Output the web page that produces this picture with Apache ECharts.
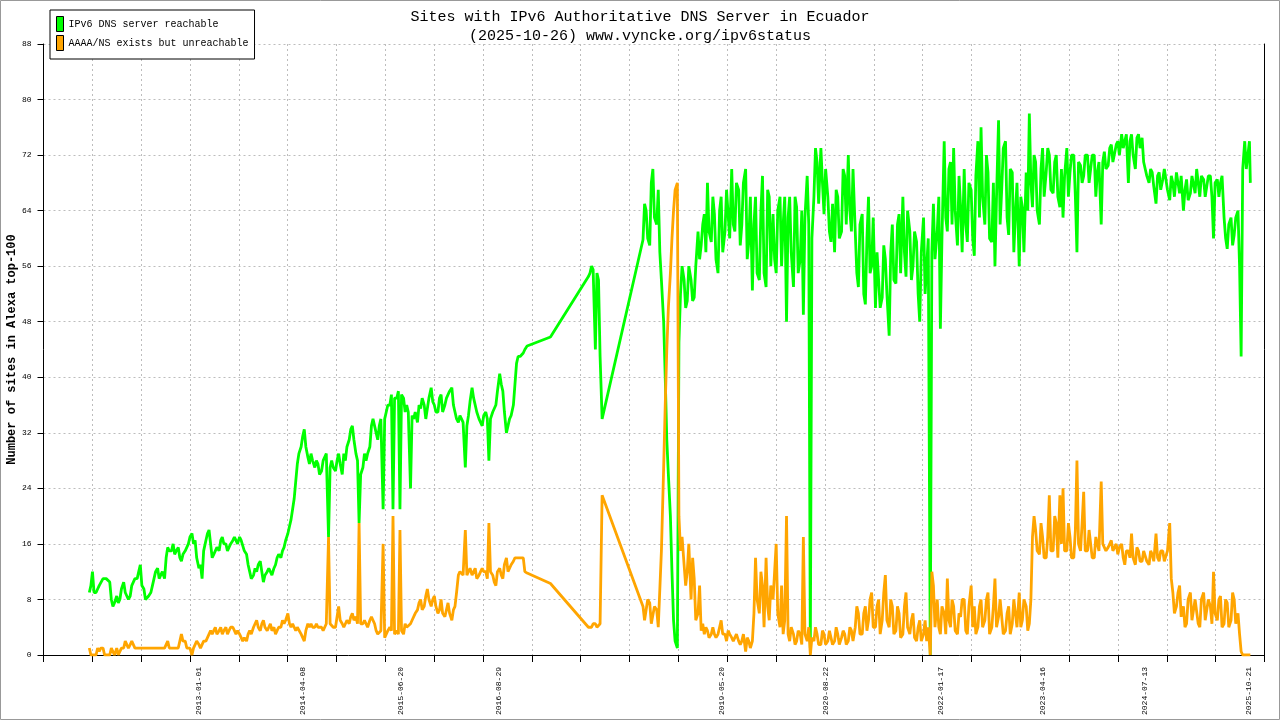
<!DOCTYPE html>
<html><head><meta charset="utf-8">
<script src="https://cdn.jsdelivr.net/npm/echarts@6/dist/echarts.min.js"></script>
<style>html,body{margin:0;padding:0;background:#fff}#c{width:1280px;height:720px}</style>
</head><body><div id="c"></div>
<script>
const titleText = 'Sites with IPv6 Authoritative DNS Server in Ecuador\n(2025-10-26) www.vyncke.org/ipv6status';
const yAxisName = 'Number of sites in Alexa top-100';
const seriesNames = ['IPv6 DNS server reachable', 'AAAA/NS exists but unreachable'];
const labelDates = ['2013-01-01','2014-04-08','2015-06-20','2016-08-29','2019-05-20','2020-08-22','2022-01-17','2023-04-16','2024-07-13','2025-10-21'];
const axisStart = '2011-02-09';
const axisEnd = '2025-12-28';
const xDivisions = 25;
const yMax = 88, yStep = 8;

// Weekly samples: "main" arrays hold the 1st and 15th of each month,
// "mid" arrays hold the 8th and 22nd. null = no sample.
const years = [2011,2012,2013,2014,2015,2016,2017,2018,2019,2020,2021,2022,2023,2024,2025];
const N = null;
const reach2011 = [N,N,N,N,N,N,N,N,N,N,N,N,N,N,N,N, 9,12,9,10,11,11,10.5,7];
const reach2012 = [8.5,8,10.5,9,8.5,10.5,11,13,9.5,8,9,11,12.5,11,11,15.5,15,14.5,15.5,13.5,15,16,17.5,16.5];
const reach2013 = [12.5,11,16.5,18,14,15,15,17,16,15.5,16.5,16.5,17,16.5,14.5,12,11.5,12,13.5,10.5,12,12,12.5,14];
const reach2014 = [14,15.5,17.5,19.5,22.5,27.5,30,32.5,28.5,29,27,27.5,26.5,28,17,28,26.5,29,26,28,31,33,29,19];
const reach2015 = [27,28,30,34,32,33,21,35,36,21,37,21,37,36,24,34,33.5,35.5,36,35.5,38.5,36,35,37.5];
const reach2016 = [36,37.5,38.5,35,33.5,34,27,34.5,38.5,37,34,33,35,28,35,36,40.5,38,32,34,36,42,43,43.5];
const reach2017 = [44.5,N,N,N,N,N,N,45.8,N,N,N,N,N,N,N,N,N,N,54.5,56,44,54,34,N];
const reach2018 = [N,N,N,N,N,N,N,N,N,N,59.8,64,59,70,62,58,48,31,20,5,1,52,54,51];
const reach2019 = [54,51.5,61,59,63.5,68,59.5,63.5,55,66,61,67,70,61,67,62,70,59.5,52.5,66,54,69,53,66];
const reach2020 = [63.5,55,66,62,48,66,53,64.5,57,49,69,1,66,71,73,63.5,66,59.5,58,66,61,69,72,61];
const reach2021 = [61,53,63.5,50.5,66,56,50,58,51.5,57,46,62,53.5,63.5,66,54.5,61,56,59.5,48,63,56,0,65];
const reach2022 = [61,47,74,61,71,73,59,64.5,70,59.5,67,57.5,74,76,62,69.5,59.5,56,77,67,74,60.5,69.5,63.5];
const reach2023 = [56,64.5,69.5,78,64.5,71,62,73,69.5,72,66.5,72,64.5,63,73,69.5,72,58,70.5,69,72,70,72,69.5];
const reach2024 = [62,72.5,70.5,73.5,71,74,75,73,68,75,70,75,74.5,70,68,69.5,65,69.5,68.5,70,65.5,68,69.5,66.5];
const reach2025 = [64,68.5,66.5,69,70,66,68.5,67.5,69,60,68.5,68,63,58.5,63,60.5,64,43,74,70];

const reachMid2011 = [N,N,N,N,N,N,N,N,N,N,N,N,N,N,N,N, 10,9,9.5,10,11,11,8,7.5];
const reachMid2012 = [7.5,9.5,9,8,10,11,12,10,8,8.5,10,12,11,12,14,15,16,15,14,14.5,15.5,17,16,14];
const reachMid2013 = [13,15,17.5,16,14.5,15.5,16.5,16,15,16,17,16,16.5,15,13,11,12.5,13,12,11.5,12.5,11.5,13,14.5];
const reachMid2014 = [15,16.5,18.5,21,25,29,31.5,30,27.5,28,28,26,28,29,27,27,28,27.5,29,30,32.5,31,28,26];
const reachMid2015 = [29,29,33,33,31,34,34,36,37.5,37,38,37.5,35,35,34.5,35,36,37,34,37,36.5,35,37,35];
const reachMid2016 = [37,38,36,34,34.5,33.5,33,36.5,37,35,33.5,34.5,34,34,35.5,38,39,35,33,34.5,39,43,43,44];
const reachMid2017 = [N,N,N,N,N,N,N,N,N,N,N,N,N,N,N,N,N,N,55,55.5,55,43,N,N];
const reachMid2018 = [N,N,N,N,N,N,N,N,N,N,65,60,68,63,67,54,40,26,12,2,45,56,50,56];
const reachMid2019 = [51,56,57,62,58,61,66,57,64,58,67,60,62,68,59,68,57,66,62,55,64,55,67,56];
const reachMid2020 = [57,64,56,66,63,58,66,55,64,63,62,60,73,65,68,70,61,65,67,60,70,62,64,70];
const reachMid2021 = [55,62,52,60,55,63,58,50,59,52,58,54,62,55,58,64,54,61,52,58,52,60,58,57];
const reachMid2022 = [66,60,63,70,62,64,69,58,62,68,60,69,63,66,72,60,68,66,62,73,63,70,58,68];
const reachMid2023 = [66,58,64,68,72,64,70,66,73,67,71,66,70,69,66,72,66,71,68,72,68,72,66,71];
const reachMid2024 = [71,70,73,71,73.5,72,73,75,74,72,74.5,73,71,69,70,67.5,69,67,70,67,69,66,68,69];
const reachMid2025 = [67,65.5,69,66.5,68,69,66,69,66,68,66,69,60,62,59,63,56,70,70,74];

const unreach2011 = [N,N,N,N,N,N,N,N,N,N,N,N,N,N,N,N, 1,0,0,0.5,1,0,0,1];
const unreach2012 = [1,0,1,2,1.5,2,1,1,1,1,1,1,1,1,1,2,1,1,1,3,2,1,0,1];
const unreach2013 = [1.5,1,2,3,3,4,3.5,3,4,3,4,3,3,2,2,3.5,4,5,3.5,5,3.5,4.5,4,3.5];
const unreach2014 = [4,4.5,6,4,4,4,3,2,4.5,4.5,4,4,4,4,17,4.5,4,7,4.5,4,4.5,6,5.5,19];
const unreach2015 = [4.5,4.5,5,5.5,3.5,3,16,2.5,4,20,3.5,18,3,4,4.5,5,6.5,8,7,9.5,7,8.5,6,8];
const unreach2016 = [5.5,7.5,5,7,11.5,12,18,12,11.5,12.5,11.5,12.5,12,19,11.5,10,12.5,11,14,12,13.5,14,14,14];
const unreach2017 = [11.8,N,N,N,N,N,N,10.3,N,N,N,N,N,N,N,N,N,N,4,4,4.5,4,23,N];
const unreach2018 = [N,N,N,N,N,N,N,N,N,N,7,5,7.5,4.5,6.5,4,27,44,55,64,68,15,13,12];
const unreach2019 = [8,11,6,3.5,3,3.5,3,3,3,5,3,3.5,2.5,2,2,2,0.5,2,2,14,6,10,14,5];
const unreach2020 = [8,16,4,3,20,2,3,2,3,17,2,0,2,3,1.5,3,2,3.5,2,3,2.5,3,2,3.5];
const unreach2021 = [4,6,3,7,5,9,4,8,5,11.5,4,7,3.5,6,3,9,3,6,2,5,3,2,0,10];
const unreach2022 = [8,3,6,11,4,7,3,5.5,8,3,10,7,4,8,5,9,4,11,5.5,8,3.5,7,4.5,8];
const unreach2023 = [9,5,7,4.5,17,18,14.5,17,14,23,15,19,23,24,15,17,14,28,15,23.5,15,18,14,17];
const unreach2024 = [25,16,15.5,16.5,15,14.5,16,13,15,17.5,13,15,13.5,15,13,14.5,17.5,13.5,15,13.5,19,9,7,10];
const unreach2025 = [7,4.5,9,5,8,4,9,5,7,12,5,8.5,4.5,7.5,5,8,6,0.5,0,0];

const unreachMid2011 = [N,N,N,N,N,N,N,N,N,N,N,N,N,N,N,N, 0,0,1,1,0,0,1,0];
const unreachMid2012 = [0,1,2,1,2,1,1,1,1,1,1,1,1,1,1,1,1,1,2,2,1,1,1,2];
const unreachMid2013 = [1,2,2.5,3.5,3.5,3,4,3.5,3,4,3.5,3.5,2.5,2.5,3,3,4.5,4,4.5,4,4,3.5,3,4];
const unreachMid2014 = [5,5,4.5,4.5,3.5,4,2.5,3.5,4,4,4.5,4,3.5,4.5,4.5,4,5.5,5,4,5,5.5,5,4.5,4.5];
const unreachMid2015 = [5,4,5.5,4.5,3,3.5,2.5,3.5,3.5,3,3,3.5,4.5,4,5,6,7.5,6.5,8.5,8,8,7,6.5,6];
const unreachMid2016 = [6.5,6,6.5,9,12,11.5,11.5,12.5,12,11,12,12,11,12,10.5,12,11.5,13,12,13,14,14,14,12];
const unreachMid2017 = [N,N,N,N,N,N,N,N,N,N,N,N,N,N,N,N,N,N,4,4.5,4,4.5,N,N];
const unreachMid2018 = [N,N,N,N,N,N,N,N,N,N,5,8,4.5,7,4,15,36,50,60,67,20,17,10,16];
const unreachMid2019 = [14,5,10,4.5,4,2.5,4,2.5,4,3,2,3,2,3,1.5,3,2.5,1,6,8,12,4,7,10];
const unreachMid2020 = [12,6,10,5,3,4,1.5,3.5,1.5,3,4,2.5,4,1.5,3.5,1.5,3.5,1.5,4,1.5,3.5,1.5,4,2];
const unreachMid2021 = [7,3,6,3.5,8,4,7,3,9,5,8,3,7,2.5,7,4,5,2.5,4,2,5,4,12,4];
const unreachMid2022 = [4,7,3,5,8,3.5,6,8,3.5,7,4,3,7,4,8,3,7,4,8,3,6,3,8,4];
const unreachMid2023 = [4,8,3.5,8,20,15,19,14,17,15,20,14,16,15,19,14,18,16,19,15,18,14,17,15];
const unreachMid2024 = [16,15,16,15,16,15.5,14,15,14,14,15.5,13.5,15,13.5,15,13.5,14,15,13.5,15,11,6,9,5.5];
const unreachMid2025 = [4,8,5,8,4.5,8,5,8,4.5,6,8,4,8,4,9,4.5,3,0,0,0];

const finalDate = '2025-10-26';
const finalReach = 68;
const finalUnreach = 0;

const reachMain = [reach2011,reach2012,reach2013,reach2014,reach2015,reach2016,reach2017,reach2018,reach2019,reach2020,reach2021,reach2022,reach2023,reach2024,reach2025];
const reachMid = [reachMid2011,reachMid2012,reachMid2013,reachMid2014,reachMid2015,reachMid2016,reachMid2017,reachMid2018,reachMid2019,reachMid2020,reachMid2021,reachMid2022,reachMid2023,reachMid2024,reachMid2025];
const unreachMain = [unreach2011,unreach2012,unreach2013,unreach2014,unreach2015,unreach2016,unreach2017,unreach2018,unreach2019,unreach2020,unreach2021,unreach2022,unreach2023,unreach2024,unreach2025];
const unreachMid = [unreachMid2011,unreachMid2012,unreachMid2013,unreachMid2014,unreachMid2015,unreachMid2016,unreachMid2017,unreachMid2018,unreachMid2019,unreachMid2020,unreachMid2021,unreachMid2022,unreachMid2023,unreachMid2024,unreachMid2025];

const DAY = 86400000;
const t0 = Date.parse(axisStart), t1 = Date.parse(axisEnd);
const toDays = t => (t - t0) / DAY;

function build(mainArr, midArr, finalVal) {
  const out = [];
  years.forEach((y, k) => {
    mainArr[k].forEach((v, i) => {
      const m = Math.floor(i / 2), odd = i % 2;
      if (v !== null) out.push([toDays(Date.UTC(y, m, odd ? 15 : 1)), v]);
      const w = midArr[k][i];
      if (w !== undefined && w !== null) out.push([toDays(Date.UTC(y, m, odd ? 22 : 8)), w]);
    });
  });
  out.push([toDays(Date.parse(finalDate)), finalVal]);
  return out;
}
const pad = n => (n < 10 ? '0' : '') + n;
function fmtDay(v) {
  const d = new Date(t0 + Math.round(v) * DAY);
  return d.getUTCFullYear() + '-' + pad(d.getUTCMonth() + 1) + '-' + pad(d.getUTCDate());
}

const span = toDays(t1);
const mono = 'Liberation Mono';
const grid = {color: '#bdbdbd', type: [2, 3], width: 1};

const chart = echarts.init(document.getElementById('c'));
chart.setOption({
  animation: false,
  backgroundColor: '#fff',
  graphic: [{type: 'rect', shape: {x: 0.5, y: 0.5, width: 1279, height: 719}, style: {fill: 'none', stroke: '#999', lineWidth: 1}, silent: true}],
  title: {text: titleText, left: 'center', top: 3,
    textStyle: {fontFamily: mono, fontSize: 15, fontWeight: 'normal', color: '#000', lineHeight: 19}},
  legend: {orient: 'vertical', left: 50, top: 10, padding: [6, 6, 8, 6], itemWidth: 7, itemHeight: 15, itemGap: 3,
    icon: 'rect', borderColor: '#000', borderWidth: 1, backgroundColor: '#fff',
    itemStyle: {borderColor: '#000', borderWidth: 1},
    textStyle: {fontFamily: mono, fontSize: 10, color: '#000'},
    data: seriesNames},
  grid: {left: 43.5, right: 15.5, top: 44, bottom: 65, containLabel: false, outerBoundsMode: 'none'},
  xAxis: {type: 'value', min: 0, max: span, interval: span / xDivisions,
    axisLine: {lineStyle: {color: '#000', width: 1}},
    axisTick: {length: 7, lineStyle: {color: '#000'}},
    splitLine: {show: true, lineStyle: grid},
    axisLabel: {customValues: labelDates.map(d => toDays(Date.parse(d))), rotate: 90, margin: 12,
      fontFamily: mono, fontSize: 8, color: '#000', formatter: v => fmtDay(v)}},
  yAxis: [{type: 'value', min: 0, max: yMax, interval: yStep, position: 'left',
    name: yAxisName, nameLocation: 'middle', nameGap: 26, nameMoveOverlap: false,
    nameTextStyle: {fontFamily: mono, fontSize: 12, fontWeight: 'bold', color: '#000'},
    axisLine: {show: true, lineStyle: {color: '#000', width: 1}},
    axisTick: {show: true, length: 6, lineStyle: {color: '#000'}},
    axisLabel: {margin: 12, fontFamily: mono, fontSize: 8, color: '#000'},
    splitLine: {show: true, lineStyle: grid}},
   {type: 'value', min: 0, max: yMax, interval: yStep, position: 'right',
    axisLine: {show: true, lineStyle: {color: '#000', width: 1}},
    axisTick: {show: false}, axisLabel: {show: false}, splitLine: {show: false}}],
  series: [
    {name: seriesNames[0], type: 'line', data: build(reachMain, reachMid, finalReach), showSymbol: false, symbol: 'none',
      lineStyle: {width: 2.8, color: '#00ff00'}, itemStyle: {color: '#00ff00'}},
    {name: seriesNames[1], type: 'line', data: build(unreachMain, unreachMid, finalUnreach), showSymbol: false, symbol: 'none',
      lineStyle: {width: 2.8, color: '#ffa500'}, itemStyle: {color: '#ffa500'}}
  ]
});
</script></body></html>
